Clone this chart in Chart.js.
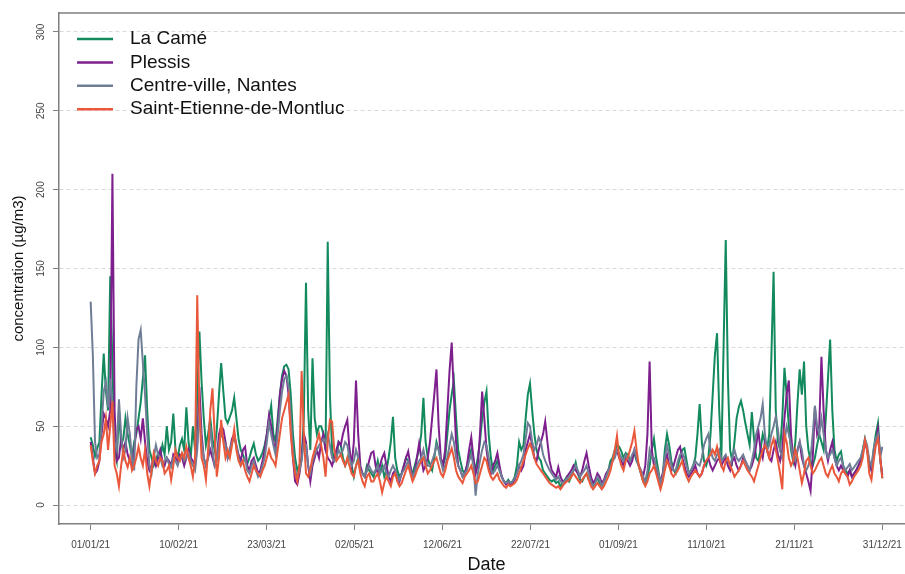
<!DOCTYPE html>
<html>
<head>
<meta charset="utf-8">
<script src="https://cdn.jsdelivr.net/npm/chart.js@4"></script>
<style>
html, body { margin: 0; padding: 0; background: #ffffff; overflow: hidden; }
#wrap { width: 914px; height: 574px; }
</style>
</head>
<body>
<div id="wrap"><canvas id="myChart"></canvas></div>
<script>
// daily values, 01/01/21 -> 31/12/21 (index = day of year)
var tickLabels = ['01/01/21', '10/02/21', '23/03/21', '02/05/21', '12/06/21', '22/07/21', '01/09/21', '11/10/21', '21/11/21', '31/12/21'];
var yTicks = [0, 50, 100, 150, 200, 250, 300];

var laCame = [
    43, 38, 31, 36, 40, 70, 96, 72, 60, 145,
    90, 35, 28, 60, 38, 42, 55, 45, 38, 30,
    40, 45, 55, 65, 80, 95, 60, 35, 30, 25,
    28, 33, 30, 38, 32, 50, 35, 40, 58, 35,
    30, 38, 42, 35, 62, 40, 30, 50, 35, 70,
    110, 78, 55, 38, 45, 55, 42, 35, 48, 70,
    90, 72, 55, 52, 56, 60, 68, 55, 42, 35,
    32, 28, 26, 30, 35, 39, 32, 28, 30, 33,
    38, 45, 55, 63, 45, 40, 55, 70, 82, 88,
    89, 86, 70, 45, 30, 22, 25, 30, 55, 141,
    60, 35, 93, 55, 45, 50, 50, 45, 35, 167,
    70, 35, 28, 30, 40, 38, 30, 25, 28, 35,
    25, 18, 25, 30, 22, 20, 18, 25, 22, 20,
    18, 22, 28, 20, 25, 18, 22, 30, 40, 56,
    30, 22, 18, 20, 25, 30, 28, 22, 20, 25,
    30, 35, 45, 68, 40, 30, 25, 22, 30, 40,
    35, 28, 25, 30, 45, 60, 70, 79, 55, 35,
    28, 22, 20, 25, 30, 35, 28, 22, 30, 40,
    55, 65, 72, 45, 30, 22, 25, 28, 22, 18,
    15, 14, 16, 14, 15, 18, 25, 40, 35, 38,
    55, 70, 77, 60, 45, 35, 30, 28, 22, 20,
    18, 16, 15, 16, 14, 15, 12, 14, 16, 18,
    15, 18, 22, 27, 20, 16, 15, 18, 20, 16,
    14, 13, 15, 17, 14, 12, 15, 18, 22, 28,
    30, 35, 38, 37, 34, 30, 33, 32, 28, 30,
    33, 28, 25, 20, 15, 13, 18, 25, 35, 42,
    30, 22, 14, 18, 35, 45, 38, 28, 22, 20,
    25, 30, 35, 36, 28, 20, 22, 25, 30, 45,
    64, 40, 28, 25, 30, 45, 70, 95, 109, 60,
    30, 100, 168, 80, 35, 28, 40, 55, 62, 66,
    60, 52, 45, 38, 59, 42, 30, 28, 35, 45,
    40, 35, 45, 95, 148, 60, 40, 35, 55, 87,
    70, 50, 35, 28, 40, 65, 86, 70, 91, 50,
    35, 28, 25, 30, 38, 45, 40, 35, 55, 80,
    105, 60, 35, 28, 32, 34, 25, 22, 20, 22,
    18, 20, 22, 25, 28, 35, 42, 35, 25, 22,
    35, 45, 52, 30, 17
];

var plessis = [
    40, 30, 20, 22, 28, 45, 58, 55, 50, 60,
    210, 60, 28, 30, 42, 35, 40, 32, 28, 25,
    35, 48, 50, 42, 55, 40, 28, 22, 25, 30,
    25, 30, 35, 28, 25, 30, 28, 25, 32, 30,
    28, 32, 30, 25, 30, 35, 30, 28, 25, 40,
    75, 45, 30, 25, 30, 35, 30, 25, 30, 45,
    50, 48, 40, 30, 35, 42, 45, 38, 32, 28,
    35, 37, 25, 22, 28, 30, 25, 20, 22, 28,
    35, 45, 57, 50, 40, 35, 50, 70, 80, 85,
    82, 70, 50, 30, 15, 13, 20, 30, 45, 40,
    25, 15, 25, 30, 35, 30, 40, 45, 35, 30,
    28, 25, 30, 35, 40, 38, 45, 50, 54, 35,
    25, 40, 79, 45, 25, 20, 18, 22, 28, 33,
    34, 25, 20, 25, 30, 33, 25, 18, 15, 20,
    22, 18, 15, 20, 25, 30, 34, 25, 18, 20,
    30, 39, 30, 22, 25, 30, 40, 55, 70, 86,
    50, 30, 25, 35, 60, 85, 103, 70, 40, 25,
    22, 18, 20, 25, 35, 43, 30, 20, 25, 45,
    72, 55, 35, 25, 20, 25, 28, 33, 25, 18,
    15, 13, 15, 13, 14, 16, 20, 25, 22, 25,
    35, 40, 45, 38, 30, 28, 35, 40, 45, 53,
    40, 28, 22, 20, 18, 24, 18, 15, 14, 18,
    20, 22, 25, 22, 20, 18, 22, 28, 33, 25,
    18, 14, 16, 20, 18, 14, 16, 20, 22, 25,
    28, 32, 35, 30, 28, 25, 30, 28, 25, 28,
    35, 30, 25, 22, 18, 25, 45, 91, 35, 25,
    22, 18, 15, 20, 28, 32, 25, 22, 25, 30,
    35, 37, 30, 25, 20, 18, 20, 22, 25, 20,
    18, 20, 25, 28, 30, 25, 22, 25, 28, 30,
    25, 28, 30, 25, 22, 28, 30, 25, 22, 25,
    30, 28, 25, 22, 25, 30, 38, 47, 35, 30,
    40, 35, 30, 28, 35, 40, 32, 28, 35, 55,
    70, 79, 45, 30, 25, 35, 40, 30, 25, 20,
    15, 9, 30, 62, 45, 50, 94, 60, 35, 28,
    35, 40, 30, 25, 22, 25, 22, 20, 18, 22,
    18, 20, 22, 25, 28, 32, 40, 35, 28, 22,
    30, 40, 48, 30, 19
];

var centreVille = [
    129, 95, 40, 30, 32, 50, 72, 78, 62, 80,
    60, 40, 35, 67, 45, 30, 35, 55, 45, 30,
    22, 75, 105, 111, 90, 70, 45, 25, 20, 30,
    38, 32, 30, 25, 28, 30, 26, 24, 30, 28,
    25, 30, 32, 28, 30, 33, 28, 25, 22, 35,
    60, 40, 30, 25, 30, 50, 35, 25, 28, 40,
    45, 42, 38, 30, 35, 40, 42, 38, 30, 25,
    28, 30, 22, 20, 25, 28, 22, 18, 20, 25,
    30, 40, 52, 45, 38, 32, 45, 60, 72, 80,
    82, 75, 55, 35, 22, 18, 22, 28, 40, 38,
    25, 20, 28, 32, 35, 38, 40, 42, 40, 45,
    38, 30, 28, 30, 35, 32, 35, 40, 38, 30,
    25, 28, 35, 30, 22, 20, 18, 22, 25, 22,
    20, 22, 25, 20, 22, 25, 20, 18, 22, 25,
    22, 18, 16, 20, 22, 25, 28, 22, 18, 20,
    25, 28, 30, 35, 28, 25, 25, 28, 32, 38,
    35, 28, 22, 25, 30, 38, 45, 40, 30, 25,
    22, 18, 20, 22, 28, 32, 25, 6, 20, 28,
    35, 40, 38, 30, 22, 20, 22, 25, 22, 18,
    15, 14, 15, 14, 15, 17, 20, 25, 28, 32,
    42, 52, 50, 40, 35, 38, 43, 40, 32, 28,
    25, 22, 20, 18, 16, 18, 15, 14, 15, 17,
    18, 20, 22, 25, 22, 18, 20, 22, 25, 20,
    15, 12, 14, 18, 16, 12, 15, 18, 22, 25,
    28, 30, 35, 33, 30, 28, 32, 30, 28, 32,
    35, 30, 25, 22, 18, 15, 22, 35, 30, 30,
    25, 20, 14, 18, 30, 38, 32, 25, 22, 22,
    28, 32, 33, 30, 25, 20, 22, 25, 28, 26,
    25, 30, 38, 42, 45, 35, 30, 28, 32, 35,
    28, 30, 32, 28, 25, 30, 35, 30, 28, 30,
    32, 28, 25, 22, 28, 35, 45, 50, 55, 64,
    45, 35, 38, 45, 50, 56, 48, 35, 30, 40,
    50, 45, 38, 30, 28, 35, 40, 35, 25, 22,
    25, 30, 45, 63, 50, 45, 55, 45, 35, 30,
    32, 35, 30, 25, 28, 30, 25, 22, 24, 26,
    22, 24, 26, 28, 30, 35, 42, 38, 28, 25,
    35, 42, 45, 30, 37
];

var saintEtienne = [
    38, 28, 20, 25, 28, 40, 45, 55, 35, 50,
    66, 25, 20, 12, 25, 35, 28, 24, 30, 22,
    25, 30, 37, 30, 25, 35, 20, 12, 22, 33,
    28, 25, 30, 28, 20, 22, 25, 16, 25, 35,
    30, 28, 33, 30, 37, 30, 25, 18, 30, 133,
    60, 30, 25, 16, 35, 60, 74, 45, 18, 30,
    54, 40, 30, 35, 30, 38, 48, 35, 28, 25,
    28, 22, 18, 15, 20, 25, 22, 20, 18, 22,
    25, 30, 35, 30, 28, 25, 35, 45, 55, 60,
    65, 70, 45, 30, 20, 15, 25, 85, 45, 20,
    18, 23, 30, 35, 40, 45, 38, 30, 18, 40,
    54, 53, 35, 28, 30, 32, 28, 25, 30, 25,
    20, 18, 25, 28, 20, 15, 12, 18, 20, 15,
    15, 18, 20, 15, 8, 14, 18, 15, 12, 18,
    20, 15, 12, 14, 18, 22, 25, 20, 15, 18,
    22, 25, 28, 30, 25, 20, 22, 25, 28, 30,
    25, 20, 18, 22, 28, 32, 36, 30, 22, 18,
    16, 14, 18, 20, 22, 25, 20, 14, 15, 20,
    25, 30, 28, 22, 18, 16, 18, 20, 16, 14,
    12, 11, 13, 12, 13, 14, 16, 20, 24, 28,
    32, 36, 39, 35, 30, 26, 24, 22, 20, 18,
    16, 14, 13, 12, 11, 12, 10, 12, 14, 15,
    16, 18, 20, 18, 16, 14, 16, 18, 20, 16,
    12, 10, 12, 14, 12, 10, 12, 15, 18, 22,
    28, 35, 44, 30, 25, 22, 28, 30, 35, 40,
    47, 35, 25, 20, 15, 12, 15, 20, 22, 25,
    20, 15, 10, 15, 22, 28, 25, 20, 18, 20,
    22, 25, 28, 22, 18, 15, 18, 20, 22, 20,
    18, 20, 25, 28, 30, 32, 35, 32, 37, 30,
    25, 22, 28, 30, 25, 22, 18, 20, 22, 25,
    28, 25, 22, 20, 18, 15, 20, 25, 30, 35,
    38, 35, 30, 38, 42, 35, 28, 20, 10, 45,
    40, 30, 25, 28, 35, 30, 22, 14, 20, 28,
    30, 25, 20, 22, 25, 28, 30, 25, 20, 18,
    22, 25, 20, 18, 15, 20, 22, 20, 18, 13,
    15, 18, 20, 22, 25, 30, 41, 35, 20, 16,
    28, 38, 42, 30, 17
];

var lastDay = laCame.length - 1;

function toPoints(values) {
    return values.map(function (v, i) { return { x: i, y: v }; });
}

Chart.defaults.font.family = 'Arial, "Liberation Sans", sans-serif';

// top edge of the frame + legend in the top-left corner
var frameAndLegend = {
    id: 'frameAndLegend',
    afterDraw: function (chart) {
        var ctx = chart.ctx;
        var area = chart.chartArea;
        ctx.save();
        ctx.strokeStyle = '#7f7f7f';
        ctx.lineWidth = 1.5;
        ctx.beginPath();
        ctx.moveTo(area.left, area.top);
        ctx.lineTo(area.right, area.top);
        ctx.stroke();

        ctx.font = '19px Arial, "Liberation Sans", sans-serif';
        ctx.textBaseline = 'middle';
        ctx.textAlign = 'left';
        chart.data.datasets.forEach(function (ds, i) {
            var y = area.top + 26 + i * 23.4;
            ctx.strokeStyle = ds.borderColor;
            ctx.lineWidth = 2.5;
            ctx.beginPath();
            ctx.moveTo(area.left + 18, y);
            ctx.lineTo(area.left + 54, y);
            ctx.stroke();
            ctx.fillStyle = '#111111';
            ctx.fillText(ds.label, area.left + 71, y);
        });
        ctx.restore();
    }
};

var ctx = document.getElementById('myChart').getContext('2d');
var myChart = new Chart(ctx, {
    type: 'line',
    data: {
        datasets: [{
            label: 'La Camé',
            data: toPoints(laCame),
            borderColor: '#138a5e',
            order: 4
        }, {
            label: 'Plessis',
            data: toPoints(plessis),
            borderColor: '#7d1f8c',
            order: 3
        }, {
            label: 'Centre-ville, Nantes',
            data: toPoints(centreVille),
            borderColor: '#6f7e96',
            order: 2
        }, {
            label: 'Saint-Etienne-de-Montluc',
            data: toPoints(saintEtienne),
            borderColor: '#e9583b',
            order: 1
        }]
    },
    options: {
        responsive: true,
        maintainAspectRatio: false,
        animation: false,
        events: [],
        datasets: {
            line: {
                borderWidth: 2,
                pointRadius: 0,
                tension: 0,
                fill: false
            }
        },
        layout: {
            padding: { top: 13, left: 0, right: 0, bottom: 0 }
        },
        plugins: {
            legend: { display: false },
            tooltip: { enabled: false }
        },
        scales: {
            x: {
                type: 'linear',
                min: -lastDay * 0.04,
                max: lastDay * 1.04,
                afterBuildTicks: function (scale) {
                    scale.ticks = tickLabels.map(function (t, i) {
                        return { value: i * lastDay / (tickLabels.length - 1) };
                    });
                },
                afterFit: function (scale) {
                    scale.height = 50;
                },
                ticks: {
                    autoSkip: false,
                    maxRotation: 0,
                    padding: 9,
                    color: '#444444',
                    font: { size: 10 },
                    callback: function (value, index) {
                        return tickLabels[index];
                    }
                },
                grid: {
                    drawOnChartArea: false,
                    drawTicks: true,
                    tickLength: 6,
                    tickColor: '#7f7f7f',
                    tickWidth: 1
                },
                border: {
                    color: '#7f7f7f',
                    width: 1.5
                },
                title: {
                    display: true,
                    text: 'Date',
                    color: '#111111',
                    font: { size: 18, lineHeight: 1 },
                    padding: { top: 0, bottom: 0 }
                }
            },
            y: {
                min: -12,
                max: 312,
                afterBuildTicks: function (scale) {
                    scale.ticks = yTicks.map(function (v) { return { value: v }; });
                },
                afterFit: function (scale) {
                    scale.width = 59;
                },
                ticks: {
                    minRotation: 90,
                    maxRotation: 90,
                    crossAlign: 'center',
                    padding: 3,
                    color: '#444444',
                    font: { size: 10 }
                },
                grid: {
                    color: '#d9d9d9',
                    lineWidth: 1,
                    drawTicks: true,
                    tickLength: 6,
                    tickColor: '#7f7f7f',
                    tickWidth: 1
                },
                border: {
                    color: '#7f7f7f',
                    width: 1.5,
                    dash: [4, 3]
                },
                title: {
                    display: true,
                    text: 'concentration (µg/m3)',
                    color: '#111111',
                    font: { size: 15 },
                    padding: { top: 10, bottom: 0 }
                }
            }
        }
    },
    plugins: [frameAndLegend]
});
</script>
</body>
</html>
